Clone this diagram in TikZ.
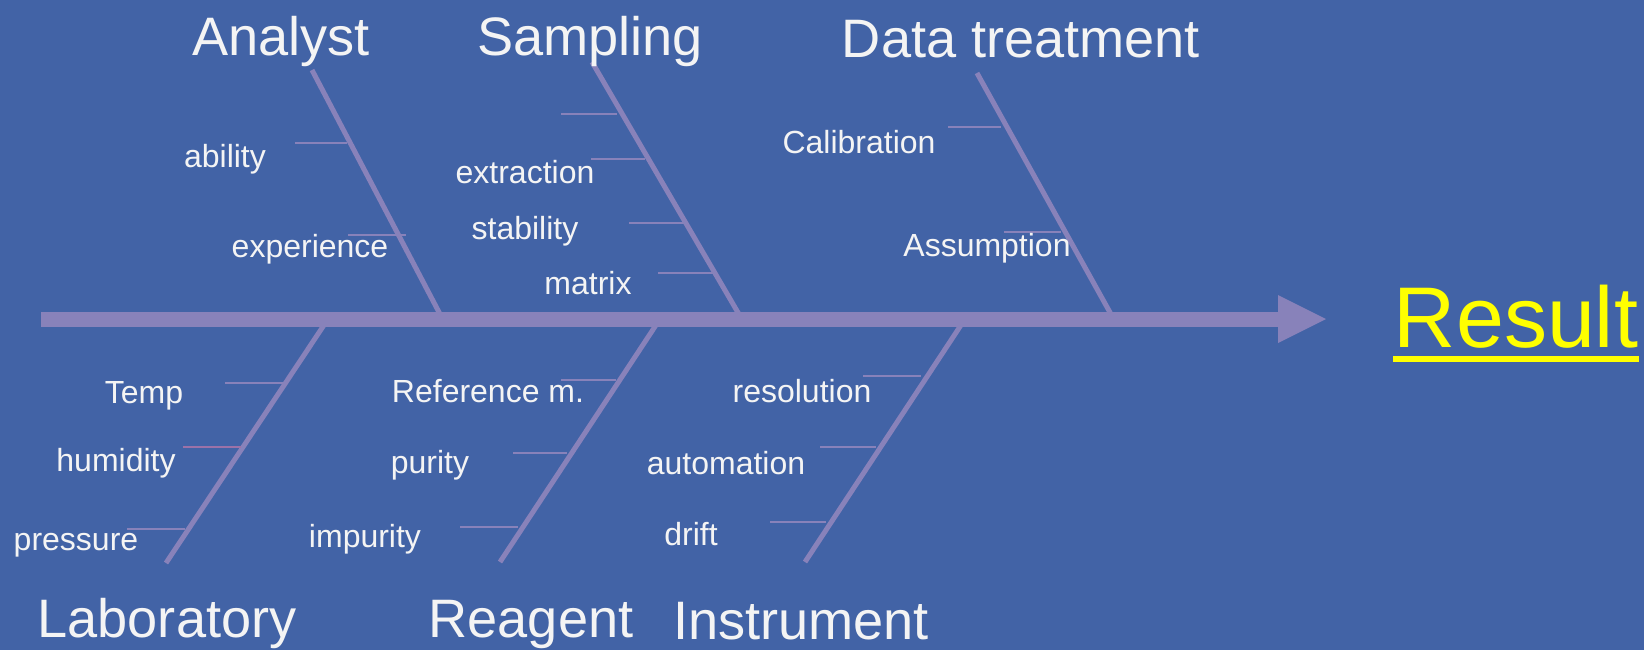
\documentclass[tikz,border=0pt]{standalone}
\usepackage{fontspec}
\setmainfont{Liberation Sans}
\definecolor{bg}{HTML}{4263A6}
\definecolor{bone}{HTML}{8882BA}
\definecolor{ribpink}{HTML}{9C72A8}
\definecolor{txt}{HTML}{F4F4F4}
\definecolor{res}{HTML}{FFFF00}
\begin{document}
\begin{tikzpicture}[x=0.01cm,y=-0.01cm,
  bonestyle/.style={draw=bone,line width=0.05cm},
  spinestyle/.style={draw=bone,line width=0.15cm},
  rib/.style={draw=bone,line width=0.02cm},
  pinkrib/.style={draw=ribpink,line width=0.02cm},
  title/.style={text=txt,font=\fontsize{15.4pt}{18pt}\selectfont,inner sep=0pt,anchor=base},
  lbl/.style={text=txt,font=\fontsize{9.1pt}{11pt}\selectfont,inner sep=0pt,anchor=base},
  result/.style={text=res,font=\fontsize{24.5pt}{28pt}\selectfont,inner sep=0pt,anchor=base},
]
\fill[bg] (0,0) rectangle (1644,650);
\useasboundingbox (0,0) rectangle (1644,650);

% spine
\coordinate (tail) at (41,319);
\coordinate (shaftend) at (1279,319);
\coordinate (tip) at (1326,319);
\coordinate (headtop) at (1278,295);
\coordinate (headbot) at (1278,343);
\draw[spinestyle] (tail) -- (shaftend);
\fill[bone] (headtop) -- (tip) -- (headbot) -- cycle;

% upper bones
\coordinate (anT) at (312,70);   \coordinate (anB) at (441,316);
\coordinate (saT) at (592,62);   \coordinate (saB) at (740,316);
\coordinate (dtT) at (977,73);   \coordinate (dtB) at (1112,316);
\draw[bonestyle] (anT) -- (anB);
\draw[bonestyle] (saT) -- (saB);
\draw[bonestyle] (dtT) -- (dtB);

% lower bones
\coordinate (laT) at (326,322);  \coordinate (laB) at (166,563);
\coordinate (reT) at (658,322);  \coordinate (reB) at (500,562);
\coordinate (inT) at (963,322);  \coordinate (inB) at (805,562);
\draw[bonestyle] (laT) -- (laB);
\draw[bonestyle] (reT) -- (reB);
\draw[bonestyle] (inT) -- (inB);

% ribs: Analyst
\coordinate (r1a) at (295,143); \coordinate (r1b) at (347,143);
\coordinate (r2a) at (348,235); \coordinate (r2b) at (406,235);
\draw[rib] (r1a) -- (r1b);
\draw[rib] (r2a) -- (r2b);
% ribs: Sampling
\coordinate (s1a) at (561,114); \coordinate (s1b) at (617,114);
\coordinate (s2a) at (591,159); \coordinate (s2b) at (645,159);
\coordinate (s3a) at (629,223); \coordinate (s3b) at (684,223);
\coordinate (s4a) at (658,273); \coordinate (s4b) at (713,273);
\draw[rib] (s1a) -- (s1b);
\draw[rib] (s2a) -- (s2b);
\draw[rib] (s3a) -- (s3b);
\draw[rib] (s4a) -- (s4b);
% ribs: Data treatment
\coordinate (d1a) at (948,127);  \coordinate (d1b) at (1001,127);
\coordinate (d2a) at (1004,232); \coordinate (d2b) at (1061,232);
\draw[rib] (d1a) -- (d1b);
\draw[rib] (d2a) -- (d2b);
% ribs: Laboratory
\coordinate (l1a) at (225,383); \coordinate (l1b) at (283,383);
\coordinate (l2a) at (183,447); \coordinate (l2b) at (241,447);
\coordinate (l3a) at (127,529); \coordinate (l3b) at (185,529);
\draw[rib] (l1a) -- (l1b);
\draw[pinkrib] (l2a) -- (l2b);
\draw[rib] (l3a) -- (l3b);
% ribs: Reagent
\coordinate (g1a) at (561,380); \coordinate (g1b) at (616,380);
\coordinate (g2a) at (513,453); \coordinate (g2b) at (567,453);
\coordinate (g3a) at (460,527); \coordinate (g3b) at (518,527);
\draw[rib] (g1a) -- (g1b);
\draw[rib] (g2a) -- (g2b);
\draw[rib] (g3a) -- (g3b);
% ribs: Instrument
\coordinate (i1a) at (863,376); \coordinate (i1b) at (921,376);
\coordinate (i2a) at (820,447); \coordinate (i2b) at (876,447);
\coordinate (i3a) at (770,522); \coordinate (i3b) at (826,522);
\draw[rib] (i1a) -- (i1b);
\draw[rib] (i2a) -- (i2b);
\draw[rib] (i3a) -- (i3b);

% titles
\node[title] (tAnalyst) at (281,55) {Analyst};
\node[title] (tSampling) at (590,55) {Sampling};
\node[title] (tData) at (1021,57) {Data treatment};
\node[title] (tLab) at (167,637) {Laboratory};
\node[title] (tReagent) at (531,637) {Reagent};
\node[title] (tInstr) at (801,639) {Instrument};

% labels
\node[lbl] (ability) at (225,167) {ability};
\node[lbl] (experience) at (310,257) {experience};
\node[lbl] (extraction) at (525,183) {extraction};
\node[lbl] (stability) at (525,239) {stability};
\node[lbl] (matrix) at (588,294) {matrix};
\node[lbl] (calibration) at (859,153) {Calibration};
\node[lbl] (assumption) at (987,256) {Assumption};
\node[lbl] (temp) at (144,403) {Temp};
\node[lbl] (humidity) at (116,471) {humidity};
\node[lbl] (pressure) at (76,550) {pressure};
\node[lbl] (refm) at (488,402) {Reference m.};
\node[lbl] (purity) at (430,473) {purity};
\node[lbl] (impurity) at (365,547) {impurity};
\node[lbl] (resolution) at (802,402) {resolution};
\node[lbl] (automation) at (726,474) {automation};
\node[lbl] (drift) at (691,545) {drift};

% result
\node[result] (result) at (1516,347) {Result};
\draw[draw=res,line width=0.06cm] ([yshift=-0.12cm]result.base west) -- ([yshift=-0.12cm]result.base east);
\end{tikzpicture}
\end{document}
